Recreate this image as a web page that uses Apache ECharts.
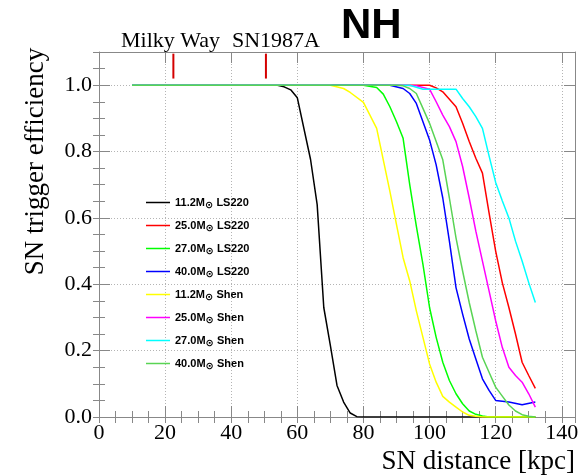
<!DOCTYPE html>
<html><head><meta charset="utf-8">
<script src="https://cdn.jsdelivr.net/npm/echarts@6/dist/echarts.min.js"></script>
<style>html,body{margin:0;padding:0;background:#fff}#c{width:579px;height:476px}</style>
</head><body><div id="c"></div>
<script>
// ---- data ----
const seriesNames = ['11.2M⊙ LS220','25.0M⊙ LS220','27.0M⊙ LS220','40.0M⊙ LS220','11.2M⊙ Shen','25.0M⊙ Shen','27.0M⊙ Shen','40.0M⊙ Shen'];
const seriesColors = ['#000000','#ff0000','#00ff00','#0000ff','#ffff00','#ff00ff','#00ffff','#59d454'];

const ls220_112 = [[10,1],[54,1],[56,0.995],[58,0.986],[60,0.962],[64,0.776],[66,0.64],[68,0.33],[70,0.215],[72,0.095],[74,0.045],[76,0.012],[78,0.001],[80,0],[132,0]];
const ls220_250 = [[10,1],[100,1],[102,0.992],[104,0.98],[108,0.935],[110,0.885],[112,0.83],[114,0.78],[116,0.735],[118,0.615],[120,0.5],[122,0.405],[124,0.33],[126,0.25],[128,0.165],[130,0.125],[132,0.086]];
const ls220_270 = [[10,1],[80,1],[84,0.993],[86,0.973],[88,0.935],[90,0.89],[92,0.84],[94,0.7],[96,0.575],[98,0.46],[100,0.33],[102,0.24],[104,0.165],[106,0.11],[108,0.07],[110,0.04],[112,0.018],[114,0.008],[116,0.003],[118,0],[132,0]];
const ls220_400 = [[10,1],[88,1],[92,0.99],[94,0.975],[96,0.945],[98,0.89],[100,0.835],[102,0.76],[104,0.66],[106,0.53],[108,0.39],[110,0.31],[112,0.235],[114,0.175],[116,0.115],[118,0.08],[120,0.05],[124,0.045],[128,0.037],[132,0.045]];
const shen_112 = [[10,1],[70,1],[74,0.99],[76,0.978],[80,0.948],[84,0.87],[86,0.775],[88,0.68],[90,0.58],[92,0.48],[94,0.41],[96,0.32],[98,0.24],[100,0.16],[102,0.105],[104,0.062],[106,0.045],[108,0.03],[110,0.015],[112,0.005],[114,0.002],[116,0],[132,0]];
const shen_250 = [[10,1],[92,1],[96,0.998],[100,0.988],[102,0.95],[104,0.91],[106,0.875],[108,0.83],[110,0.755],[112,0.66],[114,0.56],[116,0.47],[118,0.38],[120,0.29],[122,0.21],[124,0.15],[126,0.125],[128,0.105],[130,0.07],[132,0.03]];
const shen_270 = [[10,1],[94,1],[98,0.988],[108,0.988],[110,0.96],[112,0.935],[114,0.905],[116,0.87],[118,0.787],[120,0.707],[122,0.652],[124,0.6],[126,0.53],[128,0.47],[130,0.405],[132,0.345]];
const shen_400 = [[10,1],[90,1],[92,0.998],[94,0.99],[96,0.975],[98,0.93],[100,0.885],[102,0.83],[104,0.775],[106,0.66],[108,0.54],[110,0.44],[112,0.345],[114,0.26],[116,0.18],[118,0.135],[120,0.09],[122,0.063],[124,0.036],[126,0.018],[128,0.007],[130,0.002],[132,0]];
const seriesData = [ls220_112, ls220_250, ls220_270, ls220_400, shen_112, shen_250, shen_270, shen_400];

const markerNames = ['Milky Way','SN1987A'];
const markerX = [22.5, 50.5];
const markerY = [1.02, 1.095];

const xMin = 0, xMax = 144, xMajor = 20, xMinor = 5;
const yMin = 0, yMax = 1.1, yMajor = 0.2, yMinor = 0.05;

// ---- styles ----
const frameColor = '#888888';
const serif = 'Liberation Serif';
const sans = 'Liberation Sans';

function xAx(pos, interval, len, opts) {
  return Object.assign({
    type: 'value', position: pos, min: xMin, max: xMax, interval: interval,
    axisLine: { show: true, onZero: false, lineStyle: { color: frameColor, width: 1 } },
    axisTick: { show: true, inside: true, length: len, lineStyle: { color: frameColor } },
    axisLabel: { show: false },
    splitLine: { show: false }
  }, opts || {});
}
function yAx(pos, interval, len, opts) {
  return Object.assign({
    type: 'value', position: pos, min: yMin, max: yMax, interval: interval,
    axisLine: { show: true, onZero: false, lineStyle: { color: frameColor, width: 1 } },
    axisTick: { show: true, inside: true, length: len, lineStyle: { color: frameColor } },
    axisLabel: { show: false },
    splitLine: { show: false }
  }, opts || {});
}

const series = seriesNames.map((n, i) => ({
  name: n, type: 'line', data: seriesData[i], color: seriesColors[i],
  showSymbol: false, symbol: 'none', lineStyle: { width: 1.5, color: seriesColors[i] },
  z: 2 + i, animation: false
}));
markerX.forEach((mx, i) => {
  series.push({
    name: markerNames[i], type: 'line', data: [[mx, markerY[0]], [mx, markerY[1]]],
    showSymbol: false, symbol: 'none', lineStyle: { width: 2, color: '#d40000' }, z: 20, animation: false
  });
});

const option = {
  animation: false,
  backgroundColor: '#ffffff',
  grid: { left: 99, right: 4, top: 52, bottom: 59, containLabel: false, outerBoundsMode: 'none' },
  title: [
    { text: 'NH', left: 341, top: 5, padding: 0, textStyle: { fontFamily: sans, fontWeight: 'bold', fontSize: 42, color: '#000' } },
    { text: markerNames[0], left: 121, top: 30, padding: 0, textStyle: { fontFamily: serif, fontWeight: 'normal', fontSize: 22, color: '#000' } },
    { text: markerNames[1], left: 232, top: 30, padding: 0, textStyle: { fontFamily: serif, fontWeight: 'normal', fontSize: 22, color: '#000' } }
  ],
  legend: {
    data: seriesNames, orient: 'vertical', left: 141, top: 190,
    itemWidth: 24, itemHeight: 1.5, itemGap: 8, icon: 'rect', selectedMode: false,
    textStyle: { fontFamily: sans, fontWeight: 'bold', fontSize: 11, color: '#000', lineHeight: 14,
      rich: { s: { fontFamily: 'DejaVu Sans', fontSize: 10, fontWeight: 'bold', color: '#000', lineHeight: 14, padding: [5, 0, 0, 0] } } },
    formatter: n => n.replace('⊙', '{s|⊙}')
  },
  xAxis: [
    xAx('bottom', xMajor, 11, {
      axisLabel: { show: true, showMaxLabel: false, margin: 5, fontFamily: serif, fontSize: 22, color: '#000' },
      splitLine: { show: true, lineStyle: { type: [1, 2], color: '#b4b4b4', width: 1 } },
      name: 'SN distance [kpc]', nameLocation: 'end', nameGap: 0,
      nameTextStyle: { fontFamily: serif, fontSize: 27, color: '#000', align: 'right', verticalAlign: 'top', padding: [31, 0, 0, 0] }
    }),
    xAx('bottom', xMinor, 6, { axisLine: { show: false } }),
    xAx('top', xMajor, 11),
    xAx('top', xMinor, 6, { axisLine: { show: false } })
  ],
  yAxis: [
    yAx('left', yMajor, 11, {
      axisLabel: { show: true, showMaxLabel: false, margin: 7, fontFamily: serif, fontSize: 22, color: '#000', formatter: v => v.toFixed(1) },
      splitLine: { show: true, lineStyle: { type: [1, 2], color: '#b4b4b4', width: 1 } },
      name: 'SN trigger efficiency', nameLocation: 'middle', nameGap: 50, nameRotate: 90,
      nameTextStyle: { fontFamily: serif, fontSize: 27, color: '#000', padding: [0, 0, 0, 146] }
    }),
    yAx('left', yMinor, 6, { axisLine: { show: false } }),
    yAx('right', yMajor, 11),
    yAx('right', yMinor, 6, { axisLine: { show: false } })
  ],
  series: series
};

const chart = echarts.init(document.getElementById('c'), null, { renderer: 'canvas' });
chart.setOption(option);
</script>
</body></html>
